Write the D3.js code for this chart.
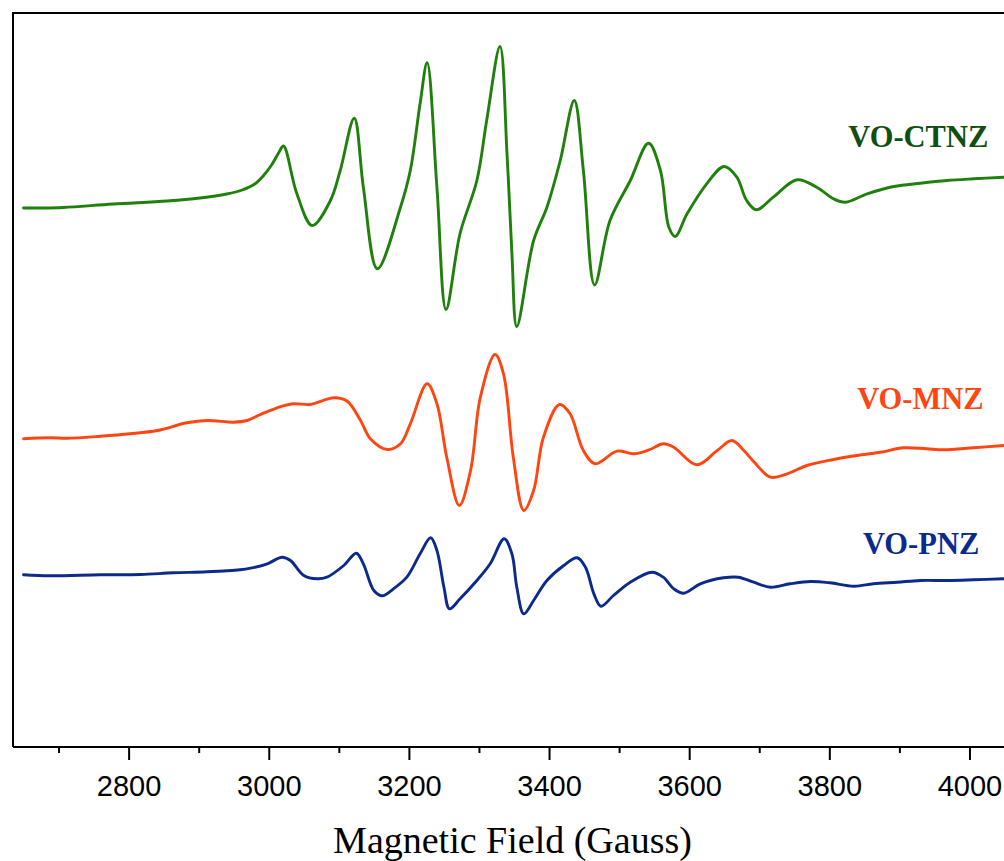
<!DOCTYPE html>
<html>
<head>
<meta charset="utf-8">
<script src="https://cdn.jsdelivr.net/npm/d3@7"></script>
<style>
  html, body { margin: 0; padding: 0; background: #fff; }
  svg { display: block; }
</style>
</head>
<body>
<svg id="chart" width="1004" height="861"></svg>
<script>
// EPR spectra of three oxovanadium complexes, stacked and offset (intensity in a.u.)
const fieldDomain = [2635, 4055];
const majorTicks = [2800, 3000, 3200, 3400, 3600, 3800, 4000];
const minorTicks = [2700, 2900, 3100, 3300, 3500, 3700, 3900];
const xTitle = "Magnetic Field (Gauss)";

const seriesNames = ["VO-CTNZ", "VO-MNZ", "VO-PNZ"];

// [field (G), intensity (a.u., offset)]
const ctnz = [
  [2650,539],[2674,539],[2707,539.5],[2778,543],[2855,546],[2902,549],[2940,553],
  [2962,557],[2980,563],[2992,571],[3004,582],[3014,594],[3021,601],[3040,553.5],[3062,521.5],
  [3088,546.5],[3102,576.5],[3122,628.8],[3135,559.8],[3155,478.2],[3188,539.8],
  [3202,576.5],[3216,643.5],[3226,684.2],[3240,559.8],[3253,437.5],[3273,513.5],
  [3297,566.5],[3311,626.5],[3330,700.5],[3340,593.5],[3347,493.5],[3354,420.5],
  [3378,506.5],[3397,539.8],[3416,586.5],[3436,646.5],[3449,576.5],[3465,462],
  [3487,526.5],[3516,566.5],[3542,603.8],[3559,576.5],[3571,519.8],[3580,510.5],
  [3597,533.2],[3625,563.2],[3650,580.5],[3668,569.8],[3682,546.5],[3696,537.2],
  [3720,549.8],[3754,567.2],[3782,559.8],[3806,548.2],[3823,544.8],[3854,553.2],
  [3892,560.5],[3930,563.8],[3968,566.5],[4006,568.2],[4049,569.8]
];

const mnz = [
  [2650,308.2],[2688,309.2],[2712,308.8],[2760,310.8],[2802,313.2],[2841,316.5],
  [2883,324.2],[2912,326.5],[2950,324.8],[2969,326.5],[2988,332.5],[3012,339.2],
  [3035,343.2],[3059,342.5],[3093,349.2],[3112,345.8],[3131,326.5],[3145,308.2],
  [3169,297.5],[3188,303.2],[3202,323.2],[3226,363.2],[3240,343.2],[3254,289.8],
  [3272,241.5],[3288,276.5],[3302,349.8],[3323,392.5],[3335,373.2],[3349,289.8],
  [3364,236.5],[3378,256.5],[3392,309.8],[3415,342.5],[3430,333.2],[3449,296.5],
  [3466,283.2],[3497,295.8],[3521,293.2],[3544,297.5],[3563,303.2],[3578,299.8],
  [3611,282.2],[3640,296.5],[3661,306.5],[3678,296.5],[3692,285.5],[3716,269.8],
  [3740,273.2],[3768,281.5],[3806,287.5],[3839,291.5],[3873,294.8],[3906,299.2],
  [3939,298.2],[3963,297.2],[4006,299.2],[4049,301.5]
];

const pnz = [
  [2650,172.2],[2688,171.2],[2760,172.2],[2817,172.5],[2864,174.2],[2912,175.2],
  [2959,177.2],[2974,178.8],[2998,183.2],[3019,189.8],[3031,186.5],[3050,171.5],
  [3069,168.2],[3083,169.8],[3107,181.5],[3125,193.8],[3135,183.2],[3150,156.5],
  [3162,151.2],[3178,158.2],[3197,169.8],[3216,193.2],[3231,209.2],[3240,196.5],
  [3250,159.8],[3258,138.2],[3273,148.2],[3297,166.5],[3316,183.2],[3336,208.2],
  [3347,193.2],[3354,159.8],[3364,133.2],[3378,146.5],[3397,166.5],[3421,181.5],
  [3440,189.2],[3452,179.8],[3464,153.2],[3474,140.8],[3492,151.5],[3516,164.8],
  [3547,174.8],[3563,169.8],[3578,158.2],[3592,153.8],[3616,163.2],[3649,169.2],
  [3670,169.8],[3692,164.8],[3716,159.8],[3744,163.2],[3773,165.5],[3801,164.2],
  [3835,160.8],[3863,163.2],[3897,164.8],[3930,166.5],[3968,166.5],[4006,167.2],
  [4049,168.2]
];

// label anchor per series: [field, intensity]
const labelAnchors = [[3927, 600], [3930, 338], [3931, 193]];

const lineColors = ["#1f800c", "#ff4510", "#0c2a8c"];
const labelColors = ["#0f4f0f", "#ff4510", "#0c2a8c"];

const svg = d3.select("#chart");
const W = 1004;
const plotLeft = 13, plotRight = 1008, plotTop = 13, plotBottom = 747;

const x = d3.scaleLinear().domain(fieldDomain).range([plotLeft, plotRight]);
const y = d3.scaleLinear().domain([0, 734]).range([plotBottom, plotTop]);

// frame (left and top edges; right edge lies beyond the view)
svg.append("path")
  .attr("d", `M${plotLeft},${plotBottom}V${plotTop}H${plotRight}`)
  .attr("fill", "none").attr("stroke", "#000").attr("stroke-width", 2);

// bottom axis: major ticks with labels
const axisMajor = d3.axisBottom(x).tickValues(majorTicks)
  .tickSizeInner(13).tickSizeOuter(0).tickPadding(15)
  .tickFormat(d3.format("d"));
const gx = svg.append("g").attr("transform", `translate(0,${plotBottom})`).call(axisMajor);
gx.select(".domain").attr("stroke-width", 2).attr("d", `M${plotLeft},0H${plotRight}`);
gx.selectAll(".tick line").attr("stroke-width", 2);
gx.selectAll(".tick text")
  .attr("font-family", "'Liberation Sans', Arial, sans-serif")
  .attr("font-size", 29).attr("fill", "#000");

// minor ticks
const axisMinor = d3.axisBottom(x).tickValues(minorTicks)
  .tickSizeInner(6).tickSizeOuter(0).tickFormat("");
const gm = svg.append("g").attr("transform", `translate(0,${plotBottom})`).call(axisMinor);
gm.select(".domain").remove();
gm.selectAll(".tick line").attr("stroke-width", 2);

// axis title, centred on the figure
svg.append("text")
  .attr("x", (plotLeft + W) / 2 + 4)
  .attr("y", 853)
  .attr("text-anchor", "middle")
  .attr("font-family", "'Liberation Serif', 'Times New Roman', serif")
  .attr("font-size", 38)
  .attr("fill", "#000")
  .text(xTitle);

// spectra
const line = d3.line()
  .x(d => x(d[0]))
  .y(d => y(d[1]))
  .curve(d3.curveCatmullRom.alpha(0.5));

[ctnz, mnz, pnz].forEach((data, i) => {
  svg.append("path")
    .datum(data)
    .attr("d", line)
    .attr("fill", "none")
    .attr("stroke", lineColors[i])
    .attr("stroke-width", 2.9)
    .attr("stroke-linejoin", "round")
    .attr("stroke-linecap", "round");
});

// series labels
seriesNames.forEach((name, i) => {
  svg.append("text")
    .attr("x", x(labelAnchors[i][0]))
    .attr("y", y(labelAnchors[i][1]))
    .attr("text-anchor", "middle")
    .attr("font-family", "'Liberation Serif', 'Times New Roman', serif")
    .attr("font-weight", "bold")
    .attr("font-size", 30.5)
    .attr("fill", labelColors[i])
    .text(name);
});
</script>
</body>
</html>
